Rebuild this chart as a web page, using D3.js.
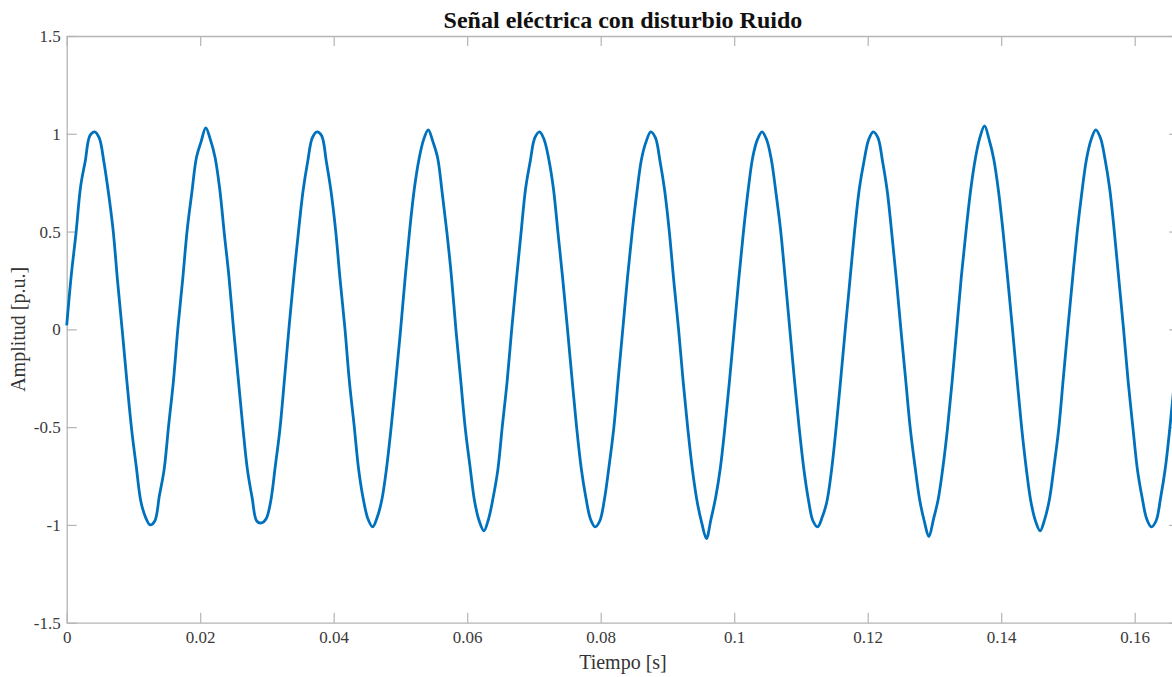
<!DOCTYPE html>
<html>
<head>
<meta charset="utf-8">
<script src="https://cdn.jsdelivr.net/npm/d3@7"></script>
<style>
  body { margin: 0; background: #fff; }
  svg { display: block; font-family: "Liberation Serif", "Times New Roman", serif; }
  .tick text { fill: #3a3a3a; font-size: 17px; font-family: "Liberation Serif", "Times New Roman", serif; }
</style>
</head>
<body>
<svg id="chart"></svg>
<script>
// sampled signal, 24 samples per 60 Hz cycle
const pasoTiempo = 1 / 1440;
const amplitud = [
  0.02, 0.28, 0.49, 0.73, 0.86, 0.99, 1.01, 0.98, 0.86, 0.70, 0.51, 0.24, -0.01, -0.27, -0.51, -0.70, -0.88, -0.96, -1.00, -0.98, -0.85, -0.72, -0.49, -0.27,
  0.01, 0.25, 0.51, 0.70, 0.88, 0.96, 1.03, 0.97, 0.88, 0.72, 0.49, 0.27, 0.00, -0.25, -0.50, -0.72, -0.86, -0.98, -0.99, -0.97, -0.88, -0.70, -0.51, -0.25,
  0.02, 0.27, 0.50, 0.71, 0.86, 0.98, 1.01, 0.99, 0.86, 0.71, 0.51, 0.25, 0.01, -0.27, -0.49, -0.72, -0.87, -0.97, -1.01, -0.96, -0.87, -0.71, -0.50, -0.26,
  -0.01, 0.26, 0.51, 0.72, 0.87, 0.97, 1.02, 0.96, 0.88, 0.70, 0.50, 0.27, -0.01, -0.26, -0.51, -0.70, -0.88, -0.98, -1.03, -0.97, -0.86, -0.72, -0.49, -0.27,
  0.00, 0.25, 0.49, 0.72, 0.86, 0.98, 1.01, 0.97, 0.87, 0.72, 0.49, 0.26, 0.01, -0.25, -0.50, -0.71, -0.86, -0.97, -1.01, -0.98, -0.87, -0.70, -0.51, -0.25,
  0.01, 0.27, 0.50, 0.70, 0.87, 0.96, 1.01, 0.98, 0.86, 0.71, 0.50, 0.24, 0.00, -0.27, -0.51, -0.72, -0.88, -0.99, -1.07, -0.97, -0.86, -0.71, -0.50, -0.26,
  0.00, 0.26, 0.50, 0.71, 0.88, 0.97, 1.01, 0.97, 0.87, 0.70, 0.51, 0.26, 0.00, -0.26, -0.50, -0.71, -0.87, -0.98, -1.01, -0.96, -0.88, -0.72, -0.50, -0.25,
  0.01, 0.26, 0.51, 0.72, 0.86, 0.97, 1.01, 0.98, 0.86, 0.71, 0.49, 0.25, -0.01, -0.26, -0.51, -0.70, -0.87, -0.98, -1.06, -0.97, -0.87, -0.71, -0.51, -0.27,
  0.00, 0.27, 0.50, 0.71, 0.87, 0.98, 1.04, 0.97, 0.87, 0.71, 0.50, 0.26, 0.01, -0.25, -0.50, -0.71, -0.88, -0.98, -1.03, -0.97, -0.87, -0.70, -0.51, -0.25,
  0.01, 0.26, 0.50, 0.70, 0.87, 0.97, 1.02, 0.98, 0.87, 0.72, 0.50, 0.25, 0.00, -0.27, -0.50, -0.72, -0.86, -0.97, -1.01, -0.98, -0.86, -0.71, -0.50, -0.26,
  0.00
];
const xTicks = [0, 0.02, 0.04, 0.06, 0.08, 0.1, 0.12, 0.14, 0.16];
const yTicks = [-1.5, -1, -0.5, 0, 0.5, 1, 1.5];
const titulo = 'Señal eléctrica con disturbio Ruido';

const w = 1172, h = 677;
const margin = { top: 36, left: 66.7 };
const plotW = 1112.5, plotH = 586.7;

const data = amplitud.map((v, i) => [i * pasoTiempo, v]);

const svg = d3.select('#chart').attr('width', w).attr('height', h);

const xScale = d3.scaleLinear().domain([0, 1 / 6]).range([margin.left, margin.left + plotW]);
const yScale = d3.scaleLinear().domain([-1.5, 1.5]).range([margin.top + plotH, margin.top]);

const axisColor = '#b4b4b4';
const tickLen = 10;
const fmt = d => String(d);

// box axes with inward ticks
const styleAxis = g => {
  g.attr('font-family', null).attr('font-size', null);
  g.select('.domain').attr('stroke', axisColor).attr('stroke-width', 1.3);
  g.selectAll('.tick line').attr('stroke', axisColor).attr('stroke-width', 1.2);
};

svg.append('g')
    .attr('transform', 'translate(0,' + yScale(-1.5) + ')')
    .call(d3.axisBottom(xScale).tickValues(xTicks).tickSize(-tickLen).tickSizeOuter(0).tickPadding(14).tickFormat(fmt))
    .call(styleAxis)
    .call(g => g.selectAll('.tick text').attr('dy', '0.4em'));

svg.append('g')
    .attr('transform', 'translate(0,' + yScale(1.5) + ')')
    .call(d3.axisTop(xScale).tickValues(xTicks).tickSize(-tickLen).tickSizeOuter(0).tickFormat(''))
    .call(styleAxis);

svg.append('g')
    .attr('transform', 'translate(' + xScale(0) + ',0)')
    .call(d3.axisLeft(yScale).tickValues(yTicks).tickSize(-tickLen).tickSizeOuter(0).tickPadding(6).tickFormat(fmt))
    .call(styleAxis);

svg.append('g')
    .attr('transform', 'translate(' + xScale(1 / 6) + ',0)')
    .call(d3.axisRight(yScale).tickValues(yTicks).tickSize(-tickLen).tickSizeOuter(0).tickFormat(''))
    .call(styleAxis);

const line = d3.line()
    .curve(d3.curveCatmullRom)
    .x(d => xScale(d[0]))
    .y(d => yScale(d[1]));

svg.append('path')
    .datum(data)
    .attr('d', line)
    .attr('fill', 'none')
    .attr('stroke', '#0072BD')
    .attr('stroke-width', 2.8)
    .attr('stroke-linejoin', 'round');

svg.append('text')
    .attr('text-anchor', 'middle')
    .attr('x', margin.left + plotW / 2)
    .attr('y', 28)
    .attr('font-weight', 'bold')
    .attr('font-size', 24)
    .attr('fill', '#111')
    .text(titulo);

svg.append('text')
    .attr('text-anchor', 'middle')
    .attr('x', margin.left + plotW / 2)
    .attr('y', 669)
    .attr('font-size', 20)
    .attr('fill', '#333')
    .text('Tiempo [s]');

svg.append('text')
    .attr('text-anchor', 'middle')
    .attr('transform', 'rotate(-90)')
    .attr('x', -yScale(0))
    .attr('y', 25)
    .attr('font-size', 20)
    .attr('fill', '#333')
    .text('Amplitud [p.u.]');
</script>
</body>
</html>
